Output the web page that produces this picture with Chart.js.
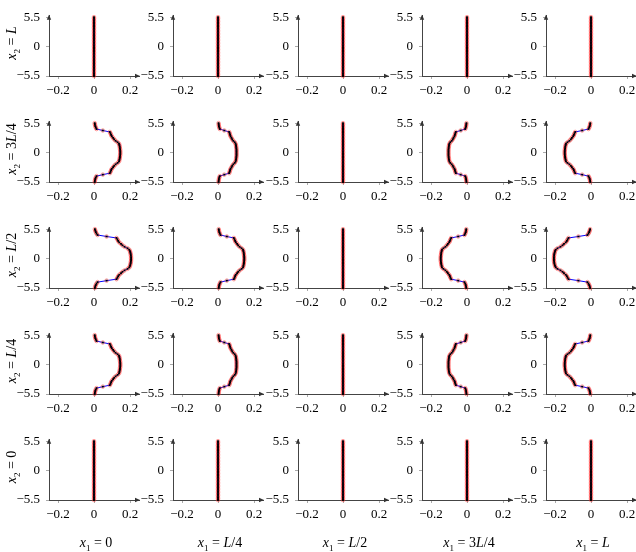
<!DOCTYPE html>
<html>
<head>
<meta charset="utf-8">
<script src="https://cdn.jsdelivr.net/npm/chart.js@4"></script>
<style>
  body { margin: 0; background: #fff; }
  #wrap { position: relative; width: 636px; height: 552px; overflow: hidden; }
  #wrap canvas { position: absolute; }
  .lab { position: absolute; font-family: 'Liberation Serif', serif; font-size: 14px; color: #000; white-space: nowrap; line-height: 1; }
  .lab sub { font-size: 9px; line-height: 0; }
  .rot { transform: translate(-50%, -50%) rotate(-90deg); }
  .ctr { transform: translate(-50%, -50%); }
</style>
</head>
<body>
<div id="wrap"></div>
<script>
// ─── Data ─────────────────────────────────────────────────────────
const yValues = [5.5, 5.225, 4.95, 4.675, 4.4, 4.125, 3.85, 3.575, 3.3, 3.025, 2.75, 2.475, 2.2, 1.925, 1.65, 1.375, 1.1, 0.825, 0.55, 0.275, 0,
  -0.275, -0.55, -0.825, -1.1, -1.375, -1.65, -1.925, -2.2, -2.475, -2.75, -3.025, -3.3, -3.575, -3.85, -4.125, -4.4, -4.675, -4.95, -5.225, -5.5];

// displacement profiles
const profA = [0.005, 0.007, 0.010, 0.014, 0.020, 0.070, 0.125, 0.130, 0.134, 0.140, 0.150, 0.158, 0.170, 0.186, 0.196, 0.200, 0.202, 0.204, 0.205, 0.206, 0.206,
  0.206, 0.205, 0.204, 0.202, 0.200, 0.196, 0.186, 0.170, 0.158, 0.150, 0.140, 0.134, 0.130, 0.125, 0.070, 0.020, 0.014, 0.010, 0.007, 0.005];
const profB = [0.004, 0.005, 0.007, 0.010, 0.014, 0.049, 0.088, 0.092, 0.095, 0.099, 0.106, 0.112, 0.120, 0.131, 0.139, 0.141, 0.143, 0.144, 0.145, 0.146, 0.146,
  0.146, 0.145, 0.144, 0.143, 0.141, 0.139, 0.131, 0.120, 0.112, 0.106, 0.099, 0.095, 0.092, 0.088, 0.049, 0.014, 0.010, 0.007, 0.005, 0.004];
const profC = [0.003, 0.004, 0.005, 0.007, 0.010, 0.035, 0.062, 0.065, 0.067, 0.070, 0.075, 0.079, 0.085, 0.093, 0.098, 0.100, 0.101, 0.102, 0.103, 0.103, 0.103,
  0.103, 0.103, 0.102, 0.101, 0.100, 0.098, 0.093, 0.085, 0.079, 0.075, 0.070, 0.067, 0.065, 0.062, 0.035, 0.010, 0.007, 0.005, 0.004, 0.003];
const profNegA = [-0.005, -0.007, -0.010, -0.014, -0.020, -0.070, -0.125, -0.130, -0.134, -0.140, -0.150, -0.158, -0.170, -0.186, -0.196, -0.200, -0.202, -0.204, -0.205, -0.206, -0.206,
  -0.206, -0.205, -0.204, -0.202, -0.200, -0.196, -0.186, -0.170, -0.158, -0.150, -0.140, -0.134, -0.130, -0.125, -0.070, -0.020, -0.014, -0.010, -0.007, -0.005];
const profNegB = [-0.004, -0.005, -0.007, -0.010, -0.014, -0.049, -0.088, -0.092, -0.095, -0.099, -0.106, -0.112, -0.120, -0.131, -0.139, -0.141, -0.143, -0.144, -0.145, -0.146, -0.146,
  -0.146, -0.145, -0.144, -0.143, -0.141, -0.139, -0.131, -0.120, -0.112, -0.106, -0.099, -0.095, -0.092, -0.088, -0.049, -0.014, -0.010, -0.007, -0.005, -0.004];
const profNegC = [-0.003, -0.004, -0.005, -0.007, -0.010, -0.035, -0.062, -0.065, -0.067, -0.070, -0.075, -0.079, -0.085, -0.093, -0.098, -0.100, -0.101, -0.102, -0.103, -0.103, -0.103,
  -0.103, -0.103, -0.102, -0.101, -0.100, -0.098, -0.093, -0.085, -0.079, -0.075, -0.070, -0.067, -0.065, -0.062, -0.035, -0.010, -0.007, -0.005, -0.004, -0.003];
const profZero = [0, 0, 0, 0, 0, 0, 0, 0, 0, 0, 0, 0, 0, 0, 0, 0, 0, 0, 0, 0, 0,
  0, 0, 0, 0, 0, 0, 0, 0, 0, 0, 0, 0, 0, 0, 0, 0, 0, 0, 0, 0];

// rows top→bottom: x2 = L, 3L/4, L/2, L/4, 0 ; cols: x1 = 0, L/4, L/2, 3L/4, L
const panelGrid = [
  [profZero, profZero, profZero, profZero, profZero],
  [profB,    profC,    profZero, profNegC, profNegB],
  [profA,    profB,    profZero, profNegB, profNegA],
  [profB,    profC,    profZero, profNegC, profNegB],
  [profZero, profZero, profZero, profZero, profZero],
];

const rowLabels = ['<i>x</i><sub>2</sub> = <i>L</i>', '<i>x</i><sub>2</sub> = 3<i>L</i>/4', '<i>x</i><sub>2</sub> = <i>L</i>/2',
  '<i>x</i><sub>2</sub> = <i>L</i>/4', '<i>x</i><sub>2</sub> = 0'];
const colLabels = ['<i>x</i><sub>1</sub> = 0', '<i>x</i><sub>1</sub> = <i>L</i>/4', '<i>x</i><sub>1</sub> = <i>L</i>/2',
  '<i>x</i><sub>1</sub> = 3<i>L</i>/4', '<i>x</i><sub>1</sub> = <i>L</i>'];

const xTickValues = [-0.2, 0, 0.2];
const xTickLabels = ['\u22120.2', '0', '0.2'];
const yTickValues = [-5.5, 0, 5.5];
const yTickLabels = ['\u22125.5', '0', '5.5'];

// ─── Layout ───────────────────────────────────────────────────────
const AXIS_X   = [49, 173, 298, 422, 546];   // y-axis position per column
const AXIS_BOT = [76, 182, 288, 394, 500];   // x-axis position per row
const AREA_W = 90, AREA_H = 66;
const PAD_L = 48, PAD_T = 8, PAD_R = 8, PAD_B = 26;

const FONT = { family: "'Liberation Serif', serif", size: 13 };

const axisArrows = {
  id: 'axisArrows',
  afterDraw(chart) {
    const { ctx, chartArea: a } = chart;
    ctx.save();
    ctx.fillStyle = '#333';
    ctx.beginPath();
    ctx.moveTo(a.right + 1, a.bottom);
    ctx.lineTo(a.right - 4, a.bottom - 2.2);
    ctx.lineTo(a.right - 4, a.bottom + 2.2);
    ctx.closePath();
    ctx.fill();
    ctx.beginPath();
    ctx.moveTo(a.left, a.top - 1);
    ctx.lineTo(a.left - 2.2, a.top + 4);
    ctx.lineTo(a.left + 2.2, a.top + 4);
    ctx.closePath();
    ctx.fill();
    ctx.restore();
  }
};

const wrap = document.getElementById('wrap');

function makePanel(r, c) {
  const prof = panelGrid[r][c];
  const pts = yValues.map((y, i) => ({ x: prof[i], y }));

  const cv = document.createElement('canvas');
  const w = PAD_L + AREA_W + PAD_R, h = PAD_T + AREA_H + PAD_B;
  cv.width = w; cv.height = h;
  cv.style.left = (AXIS_X[c] - PAD_L) + 'px';
  cv.style.top = (AXIS_BOT[r] - AREA_H - PAD_T) + 'px';
  cv.style.width = w + 'px'; cv.style.height = h + 'px';
  wrap.appendChild(cv);

  new Chart(cv, {
    type: 'scatter',
    data: {
      datasets: [
        { data: pts, showLine: false, pointStyle: 'rect', pointRadius: 1.3, backgroundColor: '#000', borderColor: '#000', borderWidth: 0, order: 0, clip: false },
        { data: pts, showLine: false, pointStyle: 'circle', pointRadius: 1.8, backgroundColor: 'transparent', borderColor: 'rgba(255,40,40,0.75)', borderWidth: 0.6, order: 1, clip: false },
        { data: pts, showLine: true, pointRadius: 0, borderColor: '#0000ff', borderWidth: 1, order: 2, clip: false },
      ]
    },
    options: {
      responsive: false,
      animation: false,
      devicePixelRatio: 1,
      layout: { padding: { top: PAD_T, right: PAD_R, left: 0, bottom: 0 } },
      plugins: { legend: { display: false }, tooltip: { enabled: false } },
      scales: {
        x: {
          type: 'linear', min: -0.25, max: 0.25,
          afterFit: s => { s.height = PAD_B; },
          afterBuildTicks: s => { s.ticks = xTickValues.map(v => ({ value: v })); },
          border: { color: '#444', width: 1 },
          grid: { drawOnChartArea: false, tickLength: 3, color: '#aaa' },
          ticks: { color: '#000', font: FONT, padding: 4, maxRotation: 0, autoSkip: false,
                   callback: (v, i) => xTickLabels[i] },
        },
        y: {
          type: 'linear', min: -5.5, max: 5.75,
          afterFit: s => { s.width = PAD_L; },
          afterBuildTicks: s => { s.ticks = yTickValues.map(v => ({ value: v })); },
          border: { color: '#444', width: 1 },
          grid: { drawOnChartArea: false, tickLength: 3, color: '#aaa' },
          ticks: { color: '#000', font: FONT, padding: 6, autoSkip: false,
                   callback: (v, i) => yTickLabels[i] },
        }
      }
    },
    plugins: [axisArrows]
  });
}

for (let r = 0; r < 5; r++) {
  for (let c = 0; c < 5; c++) makePanel(r, c);
}

// ─── Row / column labels ──────────────────────────────────────────
rowLabels.forEach((html, r) => {
  const d = document.createElement('div');
  d.className = 'lab rot';
  d.innerHTML = html;
  d.style.left = '12px';
  d.style.top = (AXIS_BOT[r] - AREA_H / 2) + 'px';
  wrap.appendChild(d);
});
colLabels.forEach((html, c) => {
  const d = document.createElement('div');
  d.className = 'lab ctr';
  d.innerHTML = html;
  d.style.left = (AXIS_X[c] + AREA_W / 2 + 2) + 'px';
  d.style.top = '543px';
  wrap.appendChild(d);
});
</script>
</body>
</html>
